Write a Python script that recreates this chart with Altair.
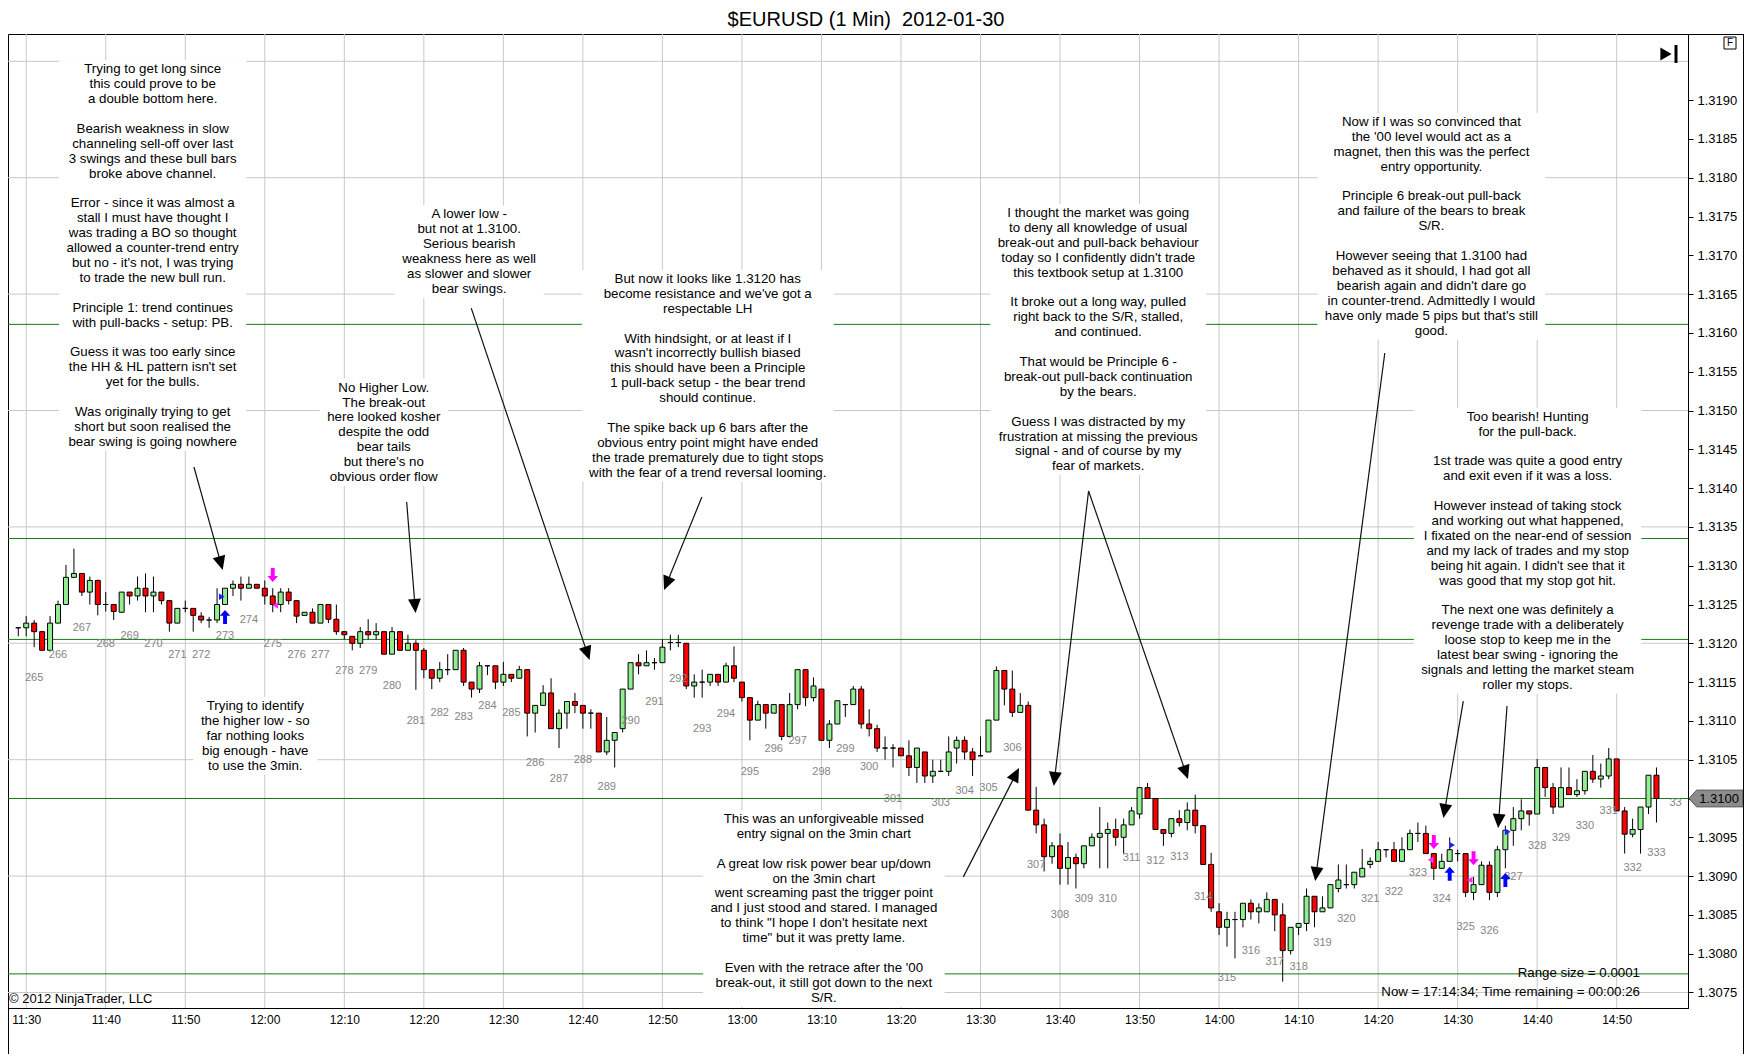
import math
import altair as alt
import pandas as pd

FONT = "Liberation Sans"

# ---------------- candle values (1-minute bars from 11:29) ----------------
opens = [
 1.31220,1.31220,1.31226,1.31215,1.31191,1.31226,1.31250,1.31285,1.31290,1.31266,
 1.31281,1.31250,1.31250,1.31240,1.31266,1.31261,1.31271,1.31261,1.31266,1.31255,
 1.31226,1.31245,1.31245,1.31235,1.31230,1.31230,1.31250,1.31271,1.31276,1.31271,
 1.31276,1.31271,1.31261,1.31250,1.31266,1.31255,1.31236,1.31240,1.31226,1.31250,
 1.31231,1.31215,1.31209,1.31200,1.31215,1.31211,1.31215,1.31186,1.31215,1.31191,
 1.31200,1.31191,1.31166,1.31155,1.31166,1.31166,1.31191,1.31150,1.31141,1.31171,
 1.31171,1.31150,1.31160,1.31155,1.31166,1.31110,1.31120,1.31136,1.31090,1.31110,
 1.31125,1.31120,1.31110,1.31110,1.31060,1.31075,1.31090,1.31141,1.31175,1.31171,
 1.31175,1.31175,1.31201,1.31201,1.31200,1.31145,1.31150,1.31150,1.31160,1.31150,
 1.31171,1.31150,1.31130,1.31101,1.31121,1.31110,1.31121,1.31080,1.31121,1.31166,
 1.31130,1.31141,1.31075,1.31096,1.31121,1.31121,1.31141,1.31096,1.31090,1.31065,
 1.31065,1.31065,1.31055,1.31040,1.31060,1.31029,1.31035,1.31035,1.31065,1.31075,
 1.31060,1.31055,1.31060,1.31101,1.31165,1.31141,1.31111,1.31120,1.30985,1.30966,
 1.30925,1.30939,1.30910,1.30924,1.30916,1.30939,1.30950,1.30955,1.30960,1.30950,
 1.30966,1.30980,1.31014,1.31000,1.30960,1.30955,1.30974,1.30969,1.30985,1.30965,
 1.30915,1.30854,1.30834,1.30844,1.30844,1.30865,1.30854,1.30854,1.30870,1.30850,
 1.30804,1.30834,1.30839,1.30874,1.30854,1.30859,1.30884,1.30889,1.30889,1.30899,
 1.30915,1.30919,1.30934,1.30934,1.30919,1.30934,1.30955,1.30955,1.30929,1.30910,
 1.30919,1.30929,1.30929,1.30879,1.30889,1.30914,1.30879,1.30934,1.30959,1.30974,
 1.30984,1.30980,1.31040,1.31014,1.30989,1.31014,1.31005,1.31010,1.31035,1.31025,
 1.31029,1.31051,1.30984,1.30954,1.30960,1.30989,1.31030]
highs = [
 1.31221,1.31235,1.31230,1.31216,1.31235,1.31255,1.31301,1.31322,1.31290,1.31286,
 1.31282,1.31266,1.31250,1.31266,1.31266,1.31286,1.31290,1.31286,1.31266,1.31255,
 1.31245,1.31255,1.31245,1.31240,1.31234,1.31271,1.31271,1.31281,1.31286,1.31286,
 1.31276,1.31281,1.31271,1.31271,1.31271,1.31255,1.31240,1.31245,1.31250,1.31250,
 1.31250,1.31215,1.31209,1.31221,1.31231,1.31226,1.31215,1.31221,1.31215,1.31211,
 1.31204,1.31194,1.31166,1.31176,1.31186,1.31191,1.31194,1.31150,1.31176,1.31171,
 1.31171,1.31176,1.31160,1.31171,1.31166,1.31120,1.31146,1.31155,1.31115,1.31125,
 1.31136,1.31120,1.31115,1.31110,1.31105,1.31085,1.31141,1.31175,1.31186,1.31191,
 1.31181,1.31205,1.31211,1.31211,1.31200,1.31160,1.31166,1.31160,1.31160,1.31175,
 1.31196,1.31150,1.31130,1.31126,1.31121,1.31121,1.31121,1.31136,1.31166,1.31166,
 1.31156,1.31141,1.31101,1.31126,1.31121,1.31145,1.31145,1.31115,1.31095,1.31080,
 1.31070,1.31065,1.31075,1.31065,1.31060,1.31050,1.31050,1.31080,1.31080,1.31080,
 1.31065,1.31080,1.31101,1.31170,1.31165,1.31165,1.31136,1.31125,1.31015,1.30974,
 1.30944,1.30955,1.30944,1.30929,1.30939,1.30955,1.30989,1.30969,1.30974,1.30974,
 1.30989,1.31014,1.31020,1.31000,1.30960,1.30974,1.30985,1.30995,1.31005,1.30965,
 1.30930,1.30865,1.30854,1.30854,1.30865,1.30870,1.30865,1.30879,1.30870,1.30865,
 1.30834,1.30839,1.30884,1.30874,1.30874,1.30889,1.30915,1.30915,1.30905,1.30935,
 1.30924,1.30944,1.30934,1.30944,1.30950,1.30960,1.30969,1.30965,1.30929,1.30929,
 1.30950,1.30934,1.30929,1.30899,1.30919,1.30919,1.30939,1.30965,1.30989,1.30999,
 1.30984,1.31051,1.31040,1.31020,1.31040,1.31040,1.31025,1.31035,1.31056,1.31045,
 1.31065,1.31051,1.30989,1.30974,1.30989,1.31030,1.31040]
lows = [
 1.31209,1.31209,1.31195,1.31191,1.31191,1.31226,1.31250,1.31285,1.31261,1.31250,
 1.31236,1.31241,1.31230,1.31240,1.31250,1.31255,1.31240,1.31240,1.31250,1.31215,
 1.31226,1.31240,1.31215,1.31226,1.31220,1.31226,1.31250,1.31261,1.31255,1.31271,
 1.31271,1.31250,1.31240,1.31240,1.31250,1.31226,1.31236,1.31226,1.31226,1.31226,
 1.31211,1.31205,1.31191,1.31194,1.31205,1.31205,1.31186,1.31186,1.31191,1.31191,
 1.31140,1.31155,1.31141,1.31150,1.31159,1.31166,1.31145,1.31130,1.31136,1.31159,
 1.31141,1.31145,1.31150,1.31155,1.31080,1.31085,1.31120,1.31090,1.31065,1.31090,
 1.31110,1.31090,1.31090,1.31060,1.31056,1.31040,1.31085,1.31141,1.31160,1.31171,
 1.31166,1.31175,1.31191,1.31195,1.31141,1.31130,1.31130,1.31145,1.31145,1.31150,
 1.31150,1.31125,1.31075,1.31101,1.31090,1.31110,1.31075,1.31080,1.31115,1.31119,
 1.31125,1.31075,1.31065,1.31096,1.31105,1.31121,1.31090,1.31080,1.31060,1.31050,
 1.31040,1.31055,1.31029,1.31020,1.31020,1.31020,1.31035,1.31029,1.31045,1.31050,
 1.31029,1.31055,1.31060,1.31101,1.31120,1.31105,1.31111,1.30985,1.30955,1.30906,
 1.30916,1.30889,1.30889,1.30884,1.30910,1.30939,1.30910,1.30910,1.30939,1.30929,
 1.30966,1.30974,1.31000,1.30960,1.30939,1.30950,1.30964,1.30959,1.30955,1.30915,
 1.30854,1.30824,1.30809,1.30794,1.30834,1.30844,1.30839,1.30854,1.30829,1.30764,
 1.30799,1.30824,1.30829,1.30834,1.30854,1.30859,1.30879,1.30884,1.30884,1.30899,
 1.30910,1.30919,1.30924,1.30919,1.30919,1.30934,1.30944,1.30929,1.30895,1.30910,
 1.30919,1.30919,1.30873,1.30869,1.30889,1.30869,1.30873,1.30910,1.30939,1.30959,
 1.30965,1.30980,1.31002,1.30980,1.30989,1.31005,1.31002,1.31005,1.31020,1.31014,
 1.31025,1.30984,1.30929,1.30950,1.30929,1.30980,1.30969]
closes = [
 1.31220,1.31226,1.31215,1.31191,1.31226,1.31250,1.31285,1.31290,1.31266,1.31281,
 1.31250,1.31250,1.31241,1.31266,1.31261,1.31271,1.31261,1.31266,1.31255,1.31226,
 1.31245,1.31245,1.31236,1.31230,1.31230,1.31250,1.31271,1.31276,1.31271,1.31276,
 1.31271,1.31261,1.31250,1.31266,1.31255,1.31235,1.31240,1.31226,1.31250,1.31231,
 1.31215,1.31211,1.31200,1.31215,1.31211,1.31215,1.31186,1.31215,1.31191,1.31200,
 1.31191,1.31166,1.31155,1.31166,1.31166,1.31191,1.31150,1.31141,1.31171,1.31171,
 1.31150,1.31160,1.31155,1.31166,1.31110,1.31120,1.31136,1.31090,1.31110,1.31125,
 1.31120,1.31110,1.31110,1.31060,1.31075,1.31085,1.31141,1.31175,1.31171,1.31175,
 1.31175,1.31195,1.31201,1.31201,1.31145,1.31150,1.31150,1.31160,1.31150,1.31171,
 1.31155,1.31130,1.31101,1.31121,1.31110,1.31121,1.31080,1.31121,1.31166,1.31130,
 1.31145,1.31075,1.31096,1.31126,1.31121,1.31141,1.31096,1.31090,1.31065,1.31065,
 1.31065,1.31055,1.31040,1.31065,1.31029,1.31035,1.31035,1.31060,1.31075,1.31060,
 1.31050,1.31055,1.31101,1.31165,1.31141,1.31111,1.31120,1.30985,1.30966,1.30925,
 1.30939,1.30910,1.30924,1.30916,1.30939,1.30950,1.30955,1.30960,1.30950,1.30966,
 1.30984,1.31014,1.31000,1.30960,1.30955,1.30974,1.30969,1.30985,1.30965,1.30915,
 1.30859,1.30834,1.30844,1.30844,1.30865,1.30854,1.30859,1.30870,1.30850,1.30804,
 1.30834,1.30839,1.30874,1.30854,1.30859,1.30889,1.30895,1.30889,1.30905,1.30910,
 1.30919,1.30934,1.30934,1.30919,1.30934,1.30955,1.30955,1.30929,1.30910,1.30919,
 1.30934,1.30929,1.30879,1.30889,1.30914,1.30879,1.30934,1.30959,1.30974,1.30984,
 1.30980,1.31040,1.31014,1.30989,1.31014,1.31005,1.31010,1.31035,1.31025,1.31029,
 1.31051,1.30984,1.30954,1.30960,1.30989,1.31030,1.31000]

first_bar = (11, 29)
tick_labels = ["11:30", "11:40", "11:50", "12:00", "12:10", "12:20", "12:30", "12:40",
               "12:50", "13:00", "13:10", "13:20", "13:30", "13:40", "13:50", "14:00",
               "14:10", "14:20", "14:30", "14:40", "14:50"]
price_ticks = [1.3075, 1.3080, 1.3085, 1.3090, 1.3095, 1.3100, 1.3105, 1.3110, 1.3115,
               1.3120, 1.3125, 1.3130, 1.3135, 1.3140, 1.3145, 1.3150, 1.3155, 1.3160,
               1.3165, 1.3170, 1.3175, 1.3180, 1.3185, 1.3190]
grid_prices = [1.3075, 1.3090, 1.3105, 1.3120, 1.3135, 1.3150, 1.3165, 1.3180, 1.3195]
sr_levels = [1.31611, 1.31335, 1.31205, 1.31000, 1.30774]

# swing counter labels (text, bar index, price)
swing_text = ["265", "266", "267", "268", "269", "270", "271", "272", "273", "274", "275",
              "276", "277", "278", "279", "280", "281", "282", "283", "284", "285", "286",
              "287", "288", "289", "290", "291", "292", "293", "294", "295", "296", "297",
              "298", "299", "300", "301", "303", "304", "305", "306", "307", "308", "309",
              "310", "311", "312", "313", "314", "315", "316", "317", "318", "319", "320",
              "321", "322", "323", "324", "325", "326", "327", "328", "329", "330", "331",
              "332", "333", "33"]
swing_bar = [2, 5, 8, 11, 14, 17, 20, 23, 26, 29, 32, 35, 38, 41, 44, 47, 50, 53, 56, 59,
             62, 65, 68, 71, 74, 77, 80, 83, 86, 89, 92, 95, 98, 101, 104, 107, 110, 116,
             119, 122, 125, 128, 131, 134, 137, 140, 143, 146, 149, 152, 155, 158, 161,
             164, 167, 170, 173, 176, 179, 182, 185, 188, 191, 194, 197, 200, 203, 206, 208.4]
swing_price = [1.31155, 1.31185, 1.31220, 1.31199, 1.31209, 1.31199, 1.31185, 1.31185,
               1.31209, 1.31230, 1.31199, 1.31185, 1.31185, 1.31164, 1.31164, 1.31145,
               1.31100, 1.31110, 1.31105, 1.31119, 1.31110, 1.31046, 1.31025, 1.31050,
               1.31015, 1.31100, 1.31124, 1.31154, 1.31090, 1.31109, 1.31034, 1.31064,
               1.31074, 1.31034, 1.31064, 1.31040, 1.31000, 1.30994, 1.31010, 1.31014,
               1.31065, 1.30914, 1.30850, 1.30871, 1.30871, 1.30923, 1.30919, 1.30925,
               1.30873, 1.30769, 1.30804, 1.30789, 1.30783, 1.30814, 1.30845, 1.30871,
               1.30879, 1.30904, 1.30871, 1.30834, 1.30829, 1.30899, 1.30939, 1.30949,
               1.30965, 1.30984, 1.30910, 1.30930, 1.30994]

# trade markers
buy_bar = [26, 180, 187]
buy_price = [1.31234, 1.30903, 1.30895]
sell_bar = [32, 178, 183]
sell_price = [1.31288, 1.30944, 1.30923]
fill_buy_bar = [25.6, 180.3, 187.3]
fill_buy_price = [1.31260, 1.30940, 1.30957]
fill_sell_bar = [32.3, 177.6, 182.5]
fill_sell_price = [1.31249, 1.30921, 1.30895]

# comment blocks: anchor = centre of the first line (bar, price)
note_bar = [16.9, 45.96, 56.7, 86.7, 135.8, 177.7, 189.8, 29.8, 101.3]
note_price = [1.319397, 1.315295, 1.317526, 1.316695, 1.317545, 1.318718, 1.314921,
              1.311192, 1.309736]
note_lines = [
    ["Trying to get long since", "this could prove to be", "a double bottom here.", "",
     "Bearish weakness in slow", "channeling sell-off over last", "3 swings and these bull bars",
     "broke above channel.", "", "Error - since it was almost a", "stall I must have thought I",
     "was trading a BO so thought", "allowed a counter-trend entry",
     "but no - it's not, I was trying", "to trade the new bull run.", "",
     "Principle 1: trend continues", "with pull-backs - setup: PB.", "",
     "Guess it was too early since", "the HH & HL pattern isn't set", "yet for the bulls.", "",
     "Was originally trying to get", "short but soon realised the", "bear swing is going nowhere"],
    ["No Higher Low.", "The break-out", "here looked kosher", "despite the odd", "bear tails",
     "but there's no", "obvious order flow"],
    ["A lower low -", "but not at 1.3100.", "Serious bearish", "weakness here as well",
     "as slower and slower", "bear swings."],
    ["But now it looks like 1.3120 has", "become resistance and we've got a", "respectable LH", "",
     "With hindsight, or at least if I", "wasn't incorrectly bullish biased",
     "this should have been a Principle", "1 pull-back setup - the bear trend",
     "should continue.", "", "The spike back up 6 bars after the",
     "obvious entry point might have ended", "the trade prematurely due to tight stops",
     "with the fear of a trend reversal looming."],
    ["I thought the market was going", "to deny all knowledge of usual",
     "break-out and pull-back behaviour", "today so I confidently didn't trade",
     "this textbook setup at 1.3100", "", "It broke out a long way, pulled",
     "right back to the S/R, stalled,", "and continued.", "", "That would be Principle 6 -",
     "break-out pull-back continuation", "by the bears.", "", "Guess I was distracted by my",
     "frustration at missing the previous", "signal - and of course by my", "fear of markets."],
    ["Now if I was so convinced that", "the '00 level would act as a",
     "magnet, then this was the perfect", "entry opportunity.", "",
     "Principle 6 break-out pull-back", "and failure of the bears to break", "S/R.", "",
     "However seeing that 1.3100 had", "behaved as it should, I had got all",
     "bearish again and didn't dare go", "in counter-trend. Admittedly I would",
     "have only made 5 pips but that's still", "good."],
    ["Too bearish! Hunting", "for the pull-back.", "", "1st trade was quite a good entry",
     "and exit even if it was a loss.", "", "However instead of taking stock",
     "and working out what happened,", "I fixated on the near-end of session",
     "and my lack of trades and my stop", "being hit again. I didn't see that it",
     "was good that my stop got hit.", "", "The next one was definitely a",
     "revenge trade with a deliberately", "loose stop to keep me in the",
     "latest bear swing - ignoring the", "signals and letting the market steam",
     "roller my stops."],
    ["Trying to identify", "the higher low - so", "far nothing looks", "big enough - have",
     "to use the 3min."],
    ["This was an unforgiveable missed", "entry signal on the 3min chart", "",
     "A great low risk power bear up/down", "on the 3min chart",
     "went screaming past the trigger point", "and I just stood and stared. I managed",
     "to think \"I hope I don't hesitate next", "time\" but it was pretty lame.", "",
     "Even with the retrace after the '00", "break-out, it still got down to the next", "S/R."],
]

# pointer arrows: tail (bar, price) -> head (bar, price)
arrow_x0 = [22.09, 48.84, 56.96, 85.96, 118.84, 134.59, 134.59, 171.84, 181.71, 187.21]
arrow_y0 = [1.314272, 1.313821, 1.316320, 1.313885, 1.308990, 1.313963, 1.313963, 1.315741,
            1.311256, 1.311192]
arrow_x1 = [25.71, 49.96, 71.84, 81.21, 125.84, 130.21, 147.09, 163.09, 179.21, 186.09]
arrow_y1 = [1.312945, 1.312390, 1.311785, 1.312687, 1.310393, 1.310161, 1.310251, 1.308937,
            1.309749, 1.309620]

# ---------------- layout ----------------
W, H = 1680, 974
PX_BAR = 8.0            # pixels per bar
PX_PRICE = 77600.0      # pixels per price unit
XD = [-0.6625, W / PX_BAR - 0.6625]
YD = [1.3100 - (H - 764.5) / PX_PRICE, 1.3100 + 764.5 / PX_PRICE]
LH = 14.9
FS = 13.3

n = len(opens)
times = []
for i in range(n):
    m = first_bar[0] * 60 + first_bar[1] + i
    times.append(f"{m // 60:02d}:{m % 60:02d}")
tick_bars = [times.index(t) for t in tick_labels]

candles = pd.DataFrame({"bar": list(range(n)), "time": times, "open": opens, "high": highs,
                        "low": lows, "close": closes})
candles["dir"] = ["up" if c >= o else "down" for o, c in zip(opens, closes)]

xs = alt.Scale(domain=XD, nice=False, zero=False)
ys = alt.Scale(domain=YD, nice=False, zero=False)
label_expr = ("[" + ",".join(f"'{t}'" for t in tick_labels) + "][indexof(["
              + ",".join(str(b) for b in tick_bars) + "], datum.value)]")
x_axis = alt.Axis(values=tick_bars, labelExpr=label_expr, ticks=False, grid=False,
                  domainColor="black", labelColor="black", labelFontSize=12, labelFont=FONT,
                  labelPadding=6, title=None, orient="bottom", labelFlush=False,
                  labelOverlap=False)
y_axis = alt.Axis(values=price_ticks, format=".4f", orient="right", grid=False, tickSize=5,
                  tickColor="black", domainColor="black", labelColor="black", labelFontSize=13,
                  labelFont=FONT, labelPadding=4, title=None, labelOverlap=False,
                  labelFlush=False)


def X(f):
    return alt.X(f, type="quantitative", scale=xs, axis=x_axis)


def Y(f):
    return alt.Y(f, type="quantitative", scale=ys, axis=y_axis)


# character widths (Arial metrics, 1/1000 em) to size the white note boxes
AW = {" ": 278, ".": 278, ",": 278, ":": 278, ";": 278, "-": 333, "'": 191, '"': 355,
      "!": 278, "?": 556, "&": 667, "/": 278, "(": 333, ")": 333}
for ch, w in zip("abcdefghijklmnopqrstuvwxyz",
                 [556, 556, 500, 556, 556, 278, 556, 556, 222, 222, 500, 222, 833, 556, 556,
                  556, 556, 333, 500, 278, 556, 500, 722, 500, 500, 500]):
    AW[ch] = w
for ch, w in zip("ABCDEFGHIJKLMNOPQRSTUVWXYZ",
                 [667, 667, 722, 722, 667, 611, 778, 722, 278, 500, 667, 556, 833, 722, 778,
                  667, 778, 722, 667, 611, 722, 667, 944, 667, 667, 611]):
    AW[ch] = w


def text_w(s):
    return sum(AW.get(c, 556) for c in s) * FS / 1000.0


# one row per text line, stacked downwards from the block anchor
note_rows = []
boxes = []
for b, p, lines in zip(note_bar, note_price, note_lines):
    for k, s in enumerate(lines):
        if s:
            note_rows.append({"bar": b, "price": p - k * LH / PX_PRICE, "text": s})
    half = max(text_w(s) for s in lines) / 2 + 8
    boxes.append({"x0": b - half / PX_BAR, "x1": b + half / PX_BAR,
                  "y0": p + 9 / PX_PRICE, "y1": p - ((len(lines) - 1) * LH + 9) / PX_PRICE})
notes = pd.DataFrame(note_rows)
boxes = pd.DataFrame(boxes)

lines_rows, heads_rows = [], []
for x0, y0, x1, y1 in zip(arrow_x0, arrow_y0, arrow_x1, arrow_y1):
    dx = (x1 - x0) * PX_BAR
    dy = -(y1 - y0) * PX_PRICE
    ln = math.hypot(dx, dy)
    ux, uy = dx / ln, dy / ln
    lines_rows.append({"x0": x0, "y0": y0, "x1": x1 - ux * 8 / PX_BAR, "y1": y1 + uy * 8 / PX_PRICE})
    heads_rows.append({"bar": x1, "price": y1, "angle": math.degrees(math.atan2(dx, -dy)) % 360})
arrow_lines = pd.DataFrame(lines_rows)
arrow_heads = pd.DataFrame(heads_rows)

HEAD = "M0,0L-0.46,1L0.46,1Z"
UP = "M0,-1L0.75,-0.15L0.28,-0.15L0.28,1L-0.28,1L-0.28,-0.15L-0.75,-0.15Z"
DOWN = "M0,1L0.75,0.15L0.28,0.15L0.28,-1L-0.28,-1L-0.28,0.15L-0.75,0.15Z"
PENT = "M-1,0L-0.72,-0.31L1,-0.31L1,0.31L-0.72,0.31Z"

one = pd.DataFrame({"k": [0]})

vgrid = alt.Chart(pd.DataFrame({"bar": tick_bars})).mark_rule(color="#c8c8c8").encode(
    x=X("bar"), y=alt.value(0), y2=alt.value(H))
hgrid = alt.Chart(pd.DataFrame({"price": grid_prices})).mark_rule(color="#c8c8c8").encode(
    y=Y("price"), x=alt.value(0), x2=alt.value(W))
sr = alt.Chart(pd.DataFrame({"price": sr_levels})).mark_rule(color="#177a17").encode(
    y=Y("price"), x=alt.value(0), x2=alt.value(W))
note_boxes = alt.Chart(boxes).mark_rect(fill="white").encode(
    x=X("x0"), x2=alt.X2("x1"), y=Y("y0"), y2=alt.Y2("y1"))
note_text = alt.Chart(notes).mark_text(
    align="center", baseline="middle", fontSize=FS, font=FONT, color="black").encode(
    x=X("bar"), y=Y("price"), text="text:N")

wicks = alt.Chart(candles).mark_rule(color="black", strokeWidth=1).encode(
    x=X("bar"), y=Y("low"), y2=alt.Y2("high"))
bodies = alt.Chart(candles).mark_bar(size=5, stroke="black", strokeWidth=1).encode(
    x=X("bar"), y=Y("open"), y2=alt.Y2("close"),
    color=alt.Color("dir:N", scale=alt.Scale(domain=["up", "down"],
                                             range=["#90ee90", "#ff0000"]), legend=None))

swings = alt.Chart(pd.DataFrame({"bar": swing_bar, "price": swing_price, "label": swing_text})
                   ).mark_text(fontSize=11, font=FONT, color="#858585").encode(
    x=X("bar"), y=Y("price"), text="label:N")

buys = alt.Chart(pd.DataFrame({"bar": buy_bar, "price": buy_price})).mark_point(
    shape=UP, filled=True, size=196, color="#0000ff", opacity=1, strokeWidth=0).encode(
    x=X("bar"), y=Y("price"))
sells = alt.Chart(pd.DataFrame({"bar": sell_bar, "price": sell_price})).mark_point(
    shape=DOWN, filled=True, size=196, color="#ff00ff", opacity=1, strokeWidth=0).encode(
    x=X("bar"), y=Y("price"))
fills_b = alt.Chart(pd.DataFrame({"bar": fill_buy_bar, "price": fill_buy_price})).mark_point(
    shape="triangle-right", filled=True, size=45, color="#2020ff", opacity=1).encode(
    x=X("bar"), y=Y("price"))
fills_s = alt.Chart(pd.DataFrame({"bar": fill_sell_bar, "price": fill_sell_price})).mark_point(
    shape="triangle-left", filled=True, size=45, color="#ff30ff", opacity=1).encode(
    x=X("bar"), y=Y("price"))

a_lines = alt.Chart(arrow_lines).mark_rule(color="#111111", strokeWidth=1.2).encode(
    x=X("x0"), x2=alt.X2("x1"), y=Y("y0"), y2=alt.Y2("y1"))
a_heads = alt.Chart(arrow_heads).mark_point(
    shape=HEAD, filled=True, size=784, color="black", opacity=1, strokeWidth=0).encode(
    x=X("bar"), y=Y("price"), angle=alt.Angle("angle:Q", scale=None))

last = pd.DataFrame({"price": [closes[-1]], "label": [f"{closes[-1]:.4f}"]})
marker = alt.Chart(last).mark_point(shape=PENT, filled=True, size=2916, fill="#8c8c8c",
                                    stroke="#505050", strokeWidth=1, opacity=1).encode(
    x=alt.value(1708), y=Y("price"))
marker_text = alt.Chart(last).mark_text(fontSize=13, font=FONT, color="black",
                                        align="center").encode(
    x=alt.value(1711), y=Y("price"), text="label:N")

title = alt.Chart(one).mark_text(fontSize=20, font=FONT, color="black", align="center",
                                 baseline="middle", text="$EURUSD (1 Min)\u00a0 2012-01-30"
                                 ).encode(x=alt.value(858), y=alt.value(-14))
copyright_t = alt.Chart(one).mark_text(fontSize=13, font=FONT, color="black", align="left",
                                       baseline="middle", text="\u00a9 2012 NinjaTrader, LLC"
                                       ).encode(x=alt.value(1), y=alt.value(965))
range_t = alt.Chart(one).mark_text(fontSize=13.3, font=FONT, color="black", align="right",
                                   baseline="middle", text="Range size = 0.0001"
                                   ).encode(x=alt.value(1632), y=alt.value(939))
now_t = alt.Chart(one).mark_text(fontSize=13.3, font=FONT, color="black", align="right",
                                 baseline="middle",
                                 text="Now = 17:14:34; Time remaining = 00:00:26"
                                 ).encode(x=alt.value(1632), y=alt.value(958))
play_tri = alt.Chart(one).mark_point(shape="triangle-right", filled=True, size=170,
                                     color="black", opacity=1).encode(
    x=alt.value(1658), y=alt.value(20))
play_bar = alt.Chart(one).mark_rule(color="black", strokeWidth=3).encode(
    x=alt.value(1668), y=alt.value(11), y2=alt.value(29))
f_box = alt.Chart(one).mark_point(shape="square", filled=False, size=144, color="black",
                                  opacity=1, strokeWidth=1).encode(
    x=alt.value(1722), y=alt.value(9))
f_txt = alt.Chart(one).mark_text(fontSize=10, font=FONT, color="black", align="center",
                                 baseline="middle", text="F").encode(
    x=alt.value(1722), y=alt.value(9))
frame_top = alt.Chart(one).mark_rule(color="black").encode(
    x=alt.value(W), x2=alt.value(1735.5), y=alt.value(0.5))
frame_right = alt.Chart(one).mark_rule(color="black").encode(
    x=alt.value(1735.5), y=alt.value(0), y2=alt.value(1045.5))
frame_bottom = alt.Chart(one).mark_rule(color="black").encode(
    x=alt.value(0), x2=alt.value(1735.5), y=alt.value(1045.5))
frame_left = alt.Chart(one).mark_rule(color="black").encode(
    x=alt.value(0.5), y=alt.value(H), y2=alt.value(1045.5))

chart = alt.layer(
    vgrid, hgrid, sr, note_boxes, note_text, wicks, bodies, swings,
    buys, sells, fills_b, fills_s, a_lines, a_heads, marker, marker_text,
    title, copyright_t, range_t, now_t, play_tri, play_bar, f_box, f_txt,
    frame_top, frame_right, frame_bottom, frame_left,
).properties(
    width=W, height=H,
    padding={"left": 0, "top": 26, "right": 56, "bottom": 46},
    autosize=alt.AutoSizeParams(type="none"),
    background="white",
).configure_view(stroke="black", strokeWidth=1)

chart.save("out.html", embed_options={"renderer": "svg", "actions": False})
